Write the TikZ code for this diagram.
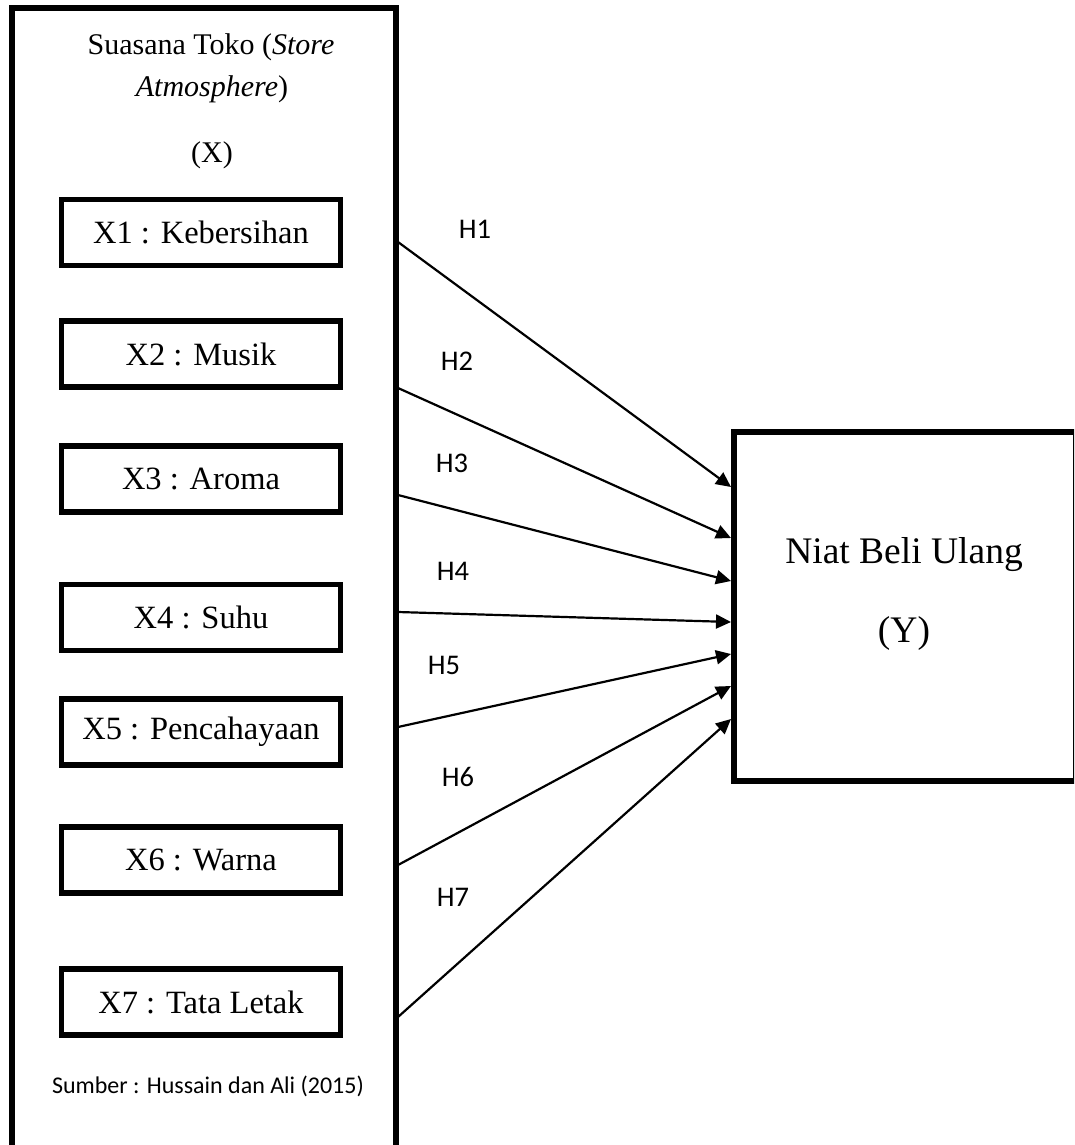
\documentclass[tikz,border=0pt]{standalone}
\usepackage{fontspec}
\setmainfont{Liberation Serif}
\newfontfamily\calib{Carlito}
\usetikzlibrary{arrows.meta}
\begin{document}
\begin{tikzpicture}[x=1pt,y=-1pt,
  outerbox/.style={draw,line width=6pt,rectangle,inner sep=0pt,outer sep=0pt,anchor=north west},
  varbox/.style={draw,line width=5.5pt,rectangle,inner sep=0pt,outer sep=0pt,minimum width=279pt,minimum height=66pt,font=\fontsize{32.5}{38}\selectfont},
  ttl/.style={anchor=base,inner sep=0pt},
  hlab/.style={anchor=base,inner sep=0pt,font=\calib\fontsize{28.5}{32}\selectfont},
  arr/.style={line width=2.2pt,-{Triangle[length=15pt,width=14pt]}}
]
\clip (0,0) rectangle (1074,1145);
\fill[white] (0,0) rectangle (1074,1145);

% outer box (X)
\node[outerbox,minimum width=383.5pt,minimum height=1170pt] (outer) at (12,8.5) {};
\node[ttl,font=\fontsize{30}{34}\selectfont] (t1) at (211,55) {Suasana Toko (\textit{Store}};
\node[ttl,font=\fontsize{30}{34}\selectfont] (t2) at (212,97) {\textit{Atmosphere})};
\node[ttl,font=\fontsize{30}{34}\selectfont] (t3) at (212,162) {(X)};

\node[varbox] (x1) at (201,232.5) {X1 : Kebersihan};
\node[varbox] (x2) at (201,354) {X2 : Musik};
\node[varbox] (x3) at (201,479) {X3 : Aroma};
\node[varbox] (x4) at (201,617.5) {X4 : Suhu};
\node[varbox] (x5) at (201,732) {X5 : Pencahayaan};
\node[varbox] (x6) at (201,860) {X6 : Warna};
\node[varbox] (x7) at (201,1002) {X7 : Tata Letak};

\node[ttl,font=\calib\fontsize{24}{28}\selectfont] (src) at (208,1093) {Sumber : Hussain dan Ali (2015)};

% Y box
\node[outerbox,minimum width=342.5pt,minimum height=349pt] (Y) at (733.5,431.5) {};
\node[ttl,font=\fontsize{37.5}{44}\selectfont] (y1) at (904,563) {Niat Beli Ulang};
\node[ttl,font=\fontsize{37.5}{44}\selectfont] (y2) at (904,642) {(Y)};

% start and end points on the borders
\coordinate (s1) at (398,242);
\coordinate (s2) at (398,388);
\coordinate (s3) at (398,495);
\coordinate (s4) at (398,612);
\coordinate (s5) at (398,727);
\coordinate (s6) at (398,865);
\coordinate (s7) at (398,1017);
\coordinate (e1) at (731,487);
\coordinate (e2) at (731,538);
\coordinate (e3) at (731,581);
\coordinate (e4) at (731,622);
\coordinate (e5) at (731,654);
\coordinate (e6) at (731,686);
\coordinate (e7) at (731,719);

\draw[arr] (s1) -- (e1);
\draw[arr] (s2) -- (e2);
\draw[arr] (s3) -- (e3);
\draw[arr] (s4) -- (e4);
\draw[arr] (s5) -- (e5);
\draw[arr] (s6) -- (e6);
\draw[arr] (s7) -- (e7);

\node[hlab] (h1) at (475,238) {H1};
\node[hlab] (h2) at (457,370) {H2};
\node[hlab] (h3) at (452,472) {H3};
\node[hlab] (h4) at (453,580) {H4};
\node[hlab] (h5) at (444,674) {H5};
\node[hlab] (h6) at (458,786) {H6};
\node[hlab] (h7) at (453,906) {H7};
\end{tikzpicture}
\end{document}
